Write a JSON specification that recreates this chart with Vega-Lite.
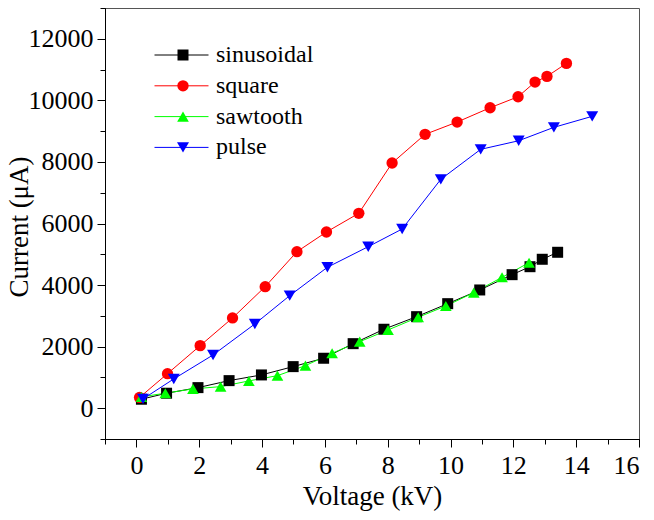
{
  "$schema": "https://vega.github.io/schema/vega-lite/v6.json",
  "width": 534,
  "height": 431,
  "autosize": {"type": "none"},
  "padding": {"left": 105, "top": 8, "right": 15, "bottom": 81},
  "background": "white",
  "config": {
    "font": "Liberation Serif, Times New Roman, DejaVu Serif, serif",
    "view": {"stroke": "#555555", "strokeWidth": 1},
    "axis": {
      "grid": false,
      "domainColor": "#000000",
      "tickColor": "#000000",
      "labelColor": "#000000",
      "titleColor": "#000000",
      "labelFont": "Liberation Serif, Times New Roman, DejaVu Serif, serif",
      "titleFont": "Liberation Serif, Times New Roman, DejaVu Serif, serif",
      "labelFontSize": 26,
      "titleFontSize": 27,
      "titleFontWeight": "normal",
      "format": "d"
    },
    "legend": {"labelFont": "Liberation Serif, Times New Roman, DejaVu Serif, serif"}
  },
  "data": {
    "values": [
      {"series": "sinusoidal", "v": 0.16, "i": 292},
      {"series": "sinusoidal", "v": 0.96, "i": 487},
      {"series": "sinusoidal", "v": 1.96, "i": 669},
      {"series": "sinusoidal", "v": 2.95, "i": 896},
      {"series": "sinusoidal", "v": 3.98, "i": 1081},
      {"series": "sinusoidal", "v": 4.99, "i": 1351},
      {"series": "sinusoidal", "v": 5.96, "i": 1623},
      {"series": "sinusoidal", "v": 6.9, "i": 2097},
      {"series": "sinusoidal", "v": 7.88, "i": 2565},
      {"series": "sinusoidal", "v": 8.92, "i": 2974},
      {"series": "sinusoidal", "v": 9.91, "i": 3396},
      {"series": "sinusoidal", "v": 10.93, "i": 3841},
      {"series": "sinusoidal", "v": 11.96, "i": 4338},
      {"series": "sinusoidal", "v": 12.53, "i": 4597},
      {"series": "sinusoidal", "v": 12.92, "i": 4838},
      {"series": "sinusoidal", "v": 13.41, "i": 5065},
      {"series": "square", "v": 0.1, "i": 350},
      {"series": "square", "v": 0.99, "i": 1123},
      {"series": "square", "v": 2.03, "i": 2033},
      {"series": "square", "v": 3.06, "i": 2932},
      {"series": "square", "v": 4.1, "i": 3948},
      {"series": "square", "v": 5.11, "i": 5084},
      {"series": "square", "v": 6.05, "i": 5724},
      {"series": "square", "v": 7.08, "i": 6331},
      {"series": "square", "v": 8.14, "i": 7964},
      {"series": "square", "v": 9.19, "i": 8896},
      {"series": "square", "v": 10.21, "i": 9295},
      {"series": "square", "v": 11.26, "i": 9760},
      {"series": "square", "v": 12.15, "i": 10117},
      {"series": "square", "v": 12.69, "i": 10594},
      {"series": "square", "v": 13.07, "i": 10779},
      {"series": "square", "v": 13.69, "i": 11201},
      {"series": "sawtooth", "v": 0.16, "i": 370},
      {"series": "sawtooth", "v": 0.92, "i": 487},
      {"series": "sawtooth", "v": 1.8, "i": 627},
      {"series": "sawtooth", "v": 2.68, "i": 701},
      {"series": "sawtooth", "v": 3.58, "i": 886},
      {"series": "sawtooth", "v": 4.49, "i": 1058},
      {"series": "sawtooth", "v": 5.38, "i": 1383},
      {"series": "sawtooth", "v": 6.23, "i": 1786},
      {"series": "sawtooth", "v": 7.11, "i": 2162},
      {"series": "sawtooth", "v": 8.01, "i": 2542},
      {"series": "sawtooth", "v": 8.97, "i": 2954},
      {"series": "sawtooth", "v": 9.85, "i": 3321},
      {"series": "sawtooth", "v": 10.74, "i": 3753},
      {"series": "sawtooth", "v": 11.64, "i": 4253},
      {"series": "sawtooth", "v": 12.5, "i": 4727},
      {"series": "pulse", "v": 0.21, "i": 302},
      {"series": "pulse", "v": 1.19, "i": 951},
      {"series": "pulse", "v": 2.44, "i": 1730},
      {"series": "pulse", "v": 3.77, "i": 2737},
      {"series": "pulse", "v": 4.88, "i": 3656},
      {"series": "pulse", "v": 6.08, "i": 4578},
      {"series": "pulse", "v": 7.38, "i": 5247},
      {"series": "pulse", "v": 8.46, "i": 5821},
      {"series": "pulse", "v": 9.69, "i": 7435},
      {"series": "pulse", "v": 10.96, "i": 8409},
      {"series": "pulse", "v": 12.17, "i": 8688},
      {"series": "pulse", "v": 13.29, "i": 9123},
      {"series": "pulse", "v": 14.51, "i": 9481}
    ]
  },
  "resolve": {"axis": {"x": "independent", "y": "independent"}},
  "layer": [
    {
      "mark": {"type": "line", "strokeWidth": 1},
      "encoding": {
        "x": {
          "field": "v", "type": "quantitative",
          "scale": {"domain": [-1, 16], "nice": false, "zero": false},
          "axis": {"orient": "bottom", "values": [-1,0,1,2,3,4,5,6,7,8,9,10,11,12,13,14,15,16], "tickSize": 5, "labels": false, "title": null}
        },
        "y": {
          "field": "i", "type": "quantitative",
          "scale": {"domain": [-1000, 13000], "nice": false, "zero": false},
          "axis": {"orient": "left", "values": [-1000,0,1000,2000,3000,4000,5000,6000,7000,8000,9000,10000,11000,12000,13000], "tickSize": 5, "labels": false, "title": null}
        },
        "stroke": {
          "field": "series", "type": "nominal",
          "sort": ["sinusoidal", "square", "sawtooth", "pulse"],
          "scale": {"range": ["#000000", "#ff0000", "#00ff00", "#0000ff"]},
          "legend": {
            "orient": "none", "legendX": 49, "legendY": 35, "title": null,
            "symbolType": "stroke", "symbolSize": 2916, "symbolStrokeWidth": 1,
            "clipHeight": 24, "rowPadding": 6.8, "padding": 0,
            "labelFontSize": 24, "labelOffset": 7, "labelColor": "#000000", "labelLimit": 300
          }
        }
      }
    },
    {
      "mark": {"type": "point", "filled": true, "opacity": 1},
      "encoding": {
        "x": {
          "field": "v", "type": "quantitative",
          "axis": {"orient": "bottom", "values": [0,2,4,6,8,10,12,14,16], "tickSize": 8, "labelPadding": 5, "title": "Voltage (kV)", "titlePadding": 5}
        },
        "y": {
          "field": "i", "type": "quantitative",
          "axis": {"orient": "left", "values": [0,2000,4000,6000,8000,10000,12000], "tickSize": 8, "labelPadding": 4, "title": "Current (μA)", "titleX": -72, "titleY": 218.5}
        },
        "color": {
          "field": "series", "type": "nominal",
          "scale": {"domain": ["sinusoidal", "square", "sawtooth", "pulse"], "range": ["#000000", "#ff0000", "#00ff00", "#0000ff"]},
          "legend": {
            "orient": "none", "legendX": 66, "legendY": 35, "title": null,
            "clipHeight": 24, "rowPadding": 6.8, "padding": 0,
            "labelFontSize": 24, "labelExpr": "''", "symbolOpacity": 1
          }
        },
        "shape": {
          "field": "series", "type": "nominal",
          "scale": {"domain": ["sinusoidal", "square", "sawtooth", "pulse"], "range": ["square", "circle", "triangle-up", "triangle-down"]},
          "legend": {
            "orient": "none", "legendX": 66, "legendY": 35, "title": null,
            "clipHeight": 24, "rowPadding": 6.8, "padding": 0,
            "labelFontSize": 24, "labelExpr": "''", "symbolOpacity": 1
          }
        },
        "size": {
          "field": "series", "type": "nominal",
          "scale": {"domain": ["sinusoidal", "square", "sawtooth", "pulse"], "range": [121, 144, 185, 185]},
          "legend": {
            "orient": "none", "legendX": 66, "legendY": 35, "title": null,
            "clipHeight": 24, "rowPadding": 6.8, "padding": 0,
            "labelFontSize": 24, "labelExpr": "''", "symbolOpacity": 1
          }
        }
      }
    }
  ]
}
